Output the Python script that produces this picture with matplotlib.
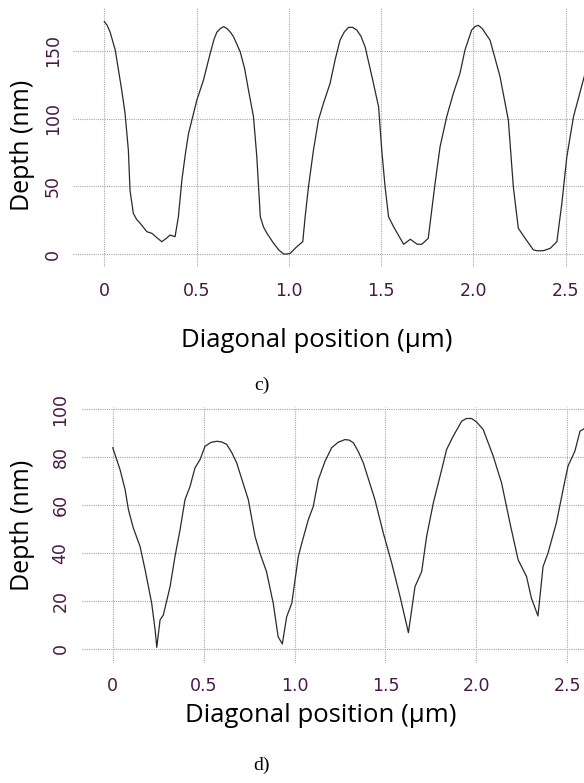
import numpy as np
import matplotlib
matplotlib.use("Agg")
import matplotlib.pyplot as plt

# ---- data: panel c) ----
x_c = [0.000, 0.015, 0.031, 0.059, 0.094, 0.112, 0.130, 0.139, 0.157, 0.175, 0.194, 0.230, 0.257,
       0.285, 0.311, 0.335, 0.356, 0.383, 0.401, 0.420, 0.440, 0.456, 0.501, 0.537, 0.573, 0.595,
       0.610, 0.628, 0.646, 0.665, 0.685, 0.700, 0.736, 0.760, 0.781, 0.808, 0.826, 0.845, 0.862,
       0.881, 0.917, 0.945, 0.971, 0.990, 1.007, 1.043, 1.075, 1.088, 1.106, 1.133, 1.160, 1.187,
       1.223, 1.250, 1.277, 1.300, 1.323, 1.345, 1.368, 1.390, 1.413, 1.450, 1.486, 1.503, 1.521,
       1.540, 1.567, 1.595, 1.622, 1.658, 1.695, 1.720, 1.755, 1.774, 1.792, 1.819, 1.855, 1.891,
       1.927, 1.954, 1.990, 2.008, 2.026, 2.048, 2.070, 2.090, 2.144, 2.189, 2.216, 2.243, 2.280,
       2.325, 2.350, 2.380, 2.416, 2.452, 2.479, 2.506, 2.542, 2.600]
y_c = [171.6, 169.0, 164.0, 150.7, 121.0, 104.0, 76.8, 47.0, 30.0, 25.5, 22.7, 16.5, 15.3,
       12.0, 9.1, 11.5, 14.0, 12.8, 27.5, 54.7, 75.0, 89.0, 113.7, 128.5, 148.0, 159.0,
       164.0, 166.5, 168.0, 166.5, 163.5, 160.5, 149.4, 137.0, 121.0, 101.4, 71.9, 27.5, 20.0,
       15.3, 7.9, 3.0, 0.0, 0.0, 0.5, 5.4, 9.1, 27.5, 49.7, 76.8, 99.0, 111.3,
       126.0, 143.3, 158.0, 164.0, 167.4, 167.5, 165.4, 161.0, 153.0, 131.0, 108.8, 76.8, 49.7,
       27.5, 20.2, 13.5, 7.2, 10.9, 7.2, 7.2, 11.6, 32.5, 52.2, 79.2, 101.4, 118.7,
       133.5, 150.7, 165.4, 168.0, 169.0, 166.5, 162.0, 158.0, 131.0, 99.0, 49.7, 19.0, 11.6,
       3.0, 2.3, 2.5, 4.2, 9.1, 37.4, 71.9, 101.4, 131.0]

# ---- data: panel d) ----
x_d = [0.001, 0.041, 0.069, 0.087, 0.114, 0.151, 0.179, 0.215, 0.234, 0.243, 0.261,
       0.279, 0.316, 0.343, 0.371, 0.398, 0.426, 0.453, 0.481, 0.508, 0.540, 0.573, 0.600,
       0.627, 0.655, 0.682, 0.746, 0.783, 0.810, 0.846, 0.883, 0.910, 0.933, 0.957, 0.985,
       1.021, 1.040, 1.076, 1.103, 1.131, 1.168, 1.204, 1.240, 1.277, 1.300, 1.323, 1.350,
       1.378, 1.442, 1.488, 1.534, 1.580, 1.626, 1.662, 1.699, 1.726, 1.763, 1.809, 1.836,
       1.872, 1.919, 1.945, 1.973, 2.000, 2.037, 2.092, 2.138, 2.184, 2.229, 2.275, 2.302,
       2.338, 2.366, 2.393, 2.439, 2.476, 2.503, 2.541, 2.569, 2.591]
y_d = [84.0, 74.9, 66.5, 58.2, 50.5, 42.8, 33.0, 19.1, 7.9, 0.7, 12.1,
       14.2, 26.0, 38.6, 49.8, 62.3, 67.9, 75.6, 79.1, 84.6, 86.2, 86.7, 86.4,
       85.4, 82.0, 77.7, 62.3, 47.0, 40.0, 32.3, 19.1, 5.1, 2.1, 13.5, 19.1,
       38.6, 44.2, 54.0, 59.5, 70.7, 78.4, 84.0, 86.3, 87.4, 87.2, 86.1, 82.5,
       77.7, 62.3, 48.4, 35.9, 21.9, 6.8, 26.0, 32.3, 47.0, 61.0, 74.9, 83.3,
       88.8, 95.1, 96.2, 96.2, 94.8, 91.6, 80.5, 69.3, 52.6, 37.2, 30.3, 21.2,
       13.8, 34.4, 40.0, 52.6, 66.5, 76.3, 82.6, 90.9, 91.9]

x_ticks = [0, 0.5, 1.0, 1.5, 2.0, 2.5]
x_ticklabels = ["0", "0.5", "1.0", "1.5", "2.0", "2.5"]
yticks_c = [0, 50, 100, 150]
yticks_d = [0, 20, 40, 60, 80, 100]

xlabel = "Diagonal position (µm)"
ylabel = "Depth (nm)"

tick_color = "#4a1848"
grid_color = "#a8a8a8"
line_color = "#2a2a2a"

fig = plt.figure(figsize=(5.84, 7.83), dpi=100)

ax1 = fig.add_axes([73/584, 1-267/783, 511/584, 260/783])
ax2 = fig.add_axes([82/584, 1-663/783, 502/584, 256/783])

def style(ax, yticks, xlim, ylim, xlab_pos, ylab_pos, xpad, ypad):
    ax.set_xlim(*xlim)
    ax.set_ylim(*ylim)
    ax.set_xticks(x_ticks)
    ax.set_xticklabels(x_ticklabels)
    ax.set_yticks(yticks)
    ax.set_yticklabels([str(v) for v in yticks], rotation=90, va="center")
    for s in ax.spines.values():
        s.set_visible(False)
    ax.tick_params(axis="both", length=0, colors=tick_color, labelsize=12.5)
    ax.tick_params(axis="x", pad=xpad)
    ax.tick_params(axis="y", pad=ypad)
    ax.grid(True, color=grid_color, linestyle=(0, (1, 1)), linewidth=0.8)
    ax.set_xlabel(xlabel, family="Open Sans", fontsize=18.5, color="black", va="center")
    ax.set_ylabel(ylabel, family="Open Sans", fontsize=18, color="black", va="center")
    ax.xaxis.set_label_coords(*xlab_pos)
    ax.yaxis.set_label_coords(*ylab_pos)

ax1.plot(x_c, y_c, color=line_color, linewidth=0.9)
style(ax1, yticks_c, (-0.170, 2.599), (-9.6, 182.5), (0.477, -0.283), (-0.0988, 0.469), 11, 8)

ax2.plot(x_d, y_d, color=line_color, linewidth=0.9)
style(ax2, yticks_d, (-0.168, 2.591), (-5.85, 101.0), (0.476, -0.207), (-0.1185, 0.539), 10, 9)

fig.text(262/584, 1-385/783, "c)", family="Liberation Serif", fontsize=14, ha="center", va="center")
fig.text(262/584, 1-765/783, "d)", family="Liberation Serif", fontsize=14, ha="center", va="center")

fig.savefig("out.png", dpi=100)
